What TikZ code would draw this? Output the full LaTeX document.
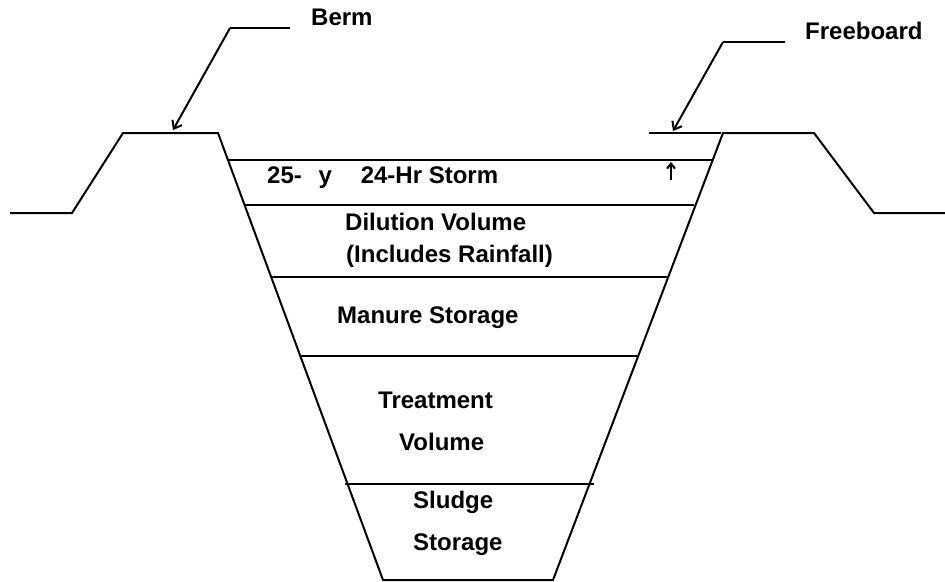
\documentclass[tikz,border=0pt]{standalone}
\usepackage{fontspec}
\setmainfont{Liberation Sans}
\usetikzlibrary{arrows.meta}
\tikzset{
  ln/.style={line width=2pt, line join=miter},
  lbl/.style={anchor=base west, inner sep=0pt, font=\bfseries\fontsize{24}{28}\selectfont},
  lead/.style={line width=2pt, -{Straight Barb[length=7pt,width=11pt,line width=2pt]}},
  small/.style={line width=2pt, -{Straight Barb[length=5pt,width=8pt,line width=2pt]}}
}
\begin{document}
\begin{tikzpicture}[x=1pt,y=-1pt]
\useasboundingbox (0,0) rectangle (945,581);
% ground and berms
\draw[ln] (10,213) -- (72,213) -- (123,133) -- (218,133) -- (383,580) -- (553,580) -- (723,133) -- (814,133) -- (874,213) -- (945,213);
% layer lines
\draw[ln] (227,160) -- (712,160);
\draw[ln] (245,205) -- (694,205);
\draw[ln] (272,277) -- (668,277);
\draw[ln] (300,356) -- (637,356);
\draw[ln] (345,484) -- (594,484);
% freeboard line
\draw[ln] (649,133) -- (721,133);
% labels
\node[lbl] (berm) at (311,25) {Berm};
\node[lbl] (free) at (805,39) {Freeboard};
\node[lbl] (storm) at (267,183) {25-\hspace{0.7em}y\hspace{1.2em}24-Hr Storm};
\node[lbl] (dil) at (345,230) {Dilution Volume};
\node[lbl] (incl) at (346,262) {(Includes Rainfall)};
\node[lbl] (man) at (337,323) {Manure Storage};
\node[lbl] (treat) at (378,408) {Treatment};
\node[lbl] (vol) at (399,450) {Volume};
\node[lbl] (slu) at (413,508) {Sludge};
\node[lbl] (sto) at (413,550) {Storage};
% leaders
\coordinate (bA) at (290,28);
\coordinate (bB) at (230,28);
\coordinate (bT) at (173,130);
\draw[ln] (bA) -- (bB);
\draw[lead] (bB) -- (bT);
\coordinate (fA) at (785,42);
\coordinate (fB) at (723,42);
\coordinate (fT) at (673,131);
\draw[ln] (fA) -- (fB);
\draw[lead] (fB) -- (fT);
\coordinate (sA) at (671,180);
\coordinate (sT) at (671,162);
\draw[small] (sA) -- (sT);
\end{tikzpicture}
\end{document}
